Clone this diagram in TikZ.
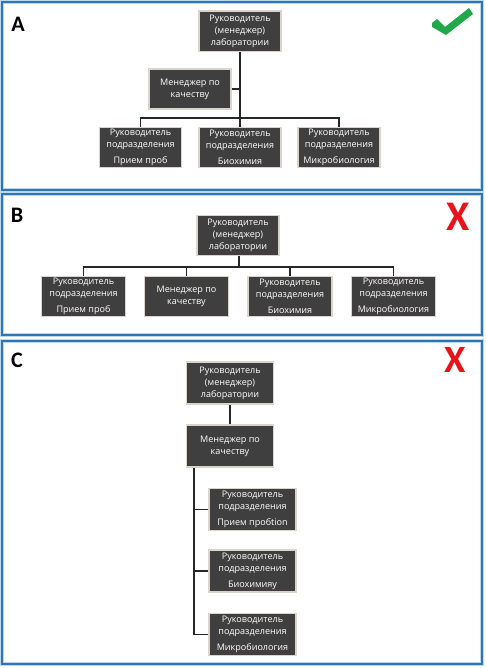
\documentclass[tikz,border=0pt]{standalone}
\usepackage{fontspec}
\setmainfont{Open Sans}
\newfontfamily\lblfont{Carlito}
\definecolor{boxgray}{HTML}{3F3F3F}
\definecolor{boxedge}{HTML}{D9D5CD}
\definecolor{frameblue}{HTML}{2E75B6}
\definecolor{framepale}{HTML}{BDD7EE}
\definecolor{okgreen}{HTML}{22A84A}
\definecolor{nored}{HTML}{E8141C}
\begin{document}
\begin{tikzpicture}[x=0.02cm, y=-0.02cm,
    box/.style={draw=boxedge, line width=0.9pt, fill=boxgray, text=white, align=center,
        minimum width=46.5pt, minimum height=23pt, inner sep=0pt,
        font=\fontsize{5.15}{6.8}\selectfont},
    boxc/.style={box, minimum width=49.5pt, minimum height=24pt},
    conn/.style={draw=black!85, line width=1pt},
    panel/.style={draw=frameblue, line width=1.1pt},
    panelglow/.style={draw=framepale, line width=2.6pt},
    letter/.style={font=\lblfont\bfseries\fontsize{12.6}{14}\selectfont, inner sep=0pt},
    cross/.style={text=nored, font=\lblfont\bfseries\fontsize{24}{26}\selectfont, inner sep=0pt}]
    \fill[white] (0,0) rectangle (485,668);
    \useasboundingbox (0,0) rectangle (485,668);

    % Frames
    \draw[panelglow] (2,2) rectangle (482,190);
    \draw[panel] (2,2) rectangle (482,190);
    \draw[panelglow] (2,194) rectangle (482,335);
    \draw[panel] (2,194) rectangle (482,335);
    \draw[panelglow] (2,341) rectangle (482,664);
    \draw[panel] (2,341) rectangle (482,664);

    % A
    \node[letter] (labA) at (18,24) {A};
    \fill[okgreen] (432,23) -- (437,19) -- (445,27) -- (469,8) -- (473,14) -- (446,35) -- (432,27) -- cycle;
    \node[box] (topA) at (240,31.5) {Руководитель\\(менеджер)\\лаборатории};
    \node[box] (qmA) at (190,89) {Менеджер по\\качеству};
    \node[box] (sub1A) at (140.5,147.5) {Руководитель\\подразделения\\[2.4pt]Прием проб};
    \node[box] (sub2A) at (240,147.5) {Руководитель\\подразделения\\[2.4pt]Биохимия};
    \node[box] (sub3A) at (339,147.5) {Руководитель\\подразделения\\[2.4pt]Микробиология};
    \coordinate (busA) at (240,118);
    \draw[conn] (topA.south) -- (busA);
    \draw[conn] (sub1A.north) |- (busA) -| (sub3A.north);
    \draw[conn] (busA) -- (sub2A.north);
    \draw[conn] (qmA.east) -- (qmA.east -| busA);

    % B
    \node[letter] (labB) at (17,215) {B};
    \node[cross] (xB) at (458.5,216.5) {X};
    \node[box] (topB) at (238,235.5) {Руководитель\\(менеджер)\\лаборатории};
    \node[box, minimum width=48pt] (sub1B) at (83.5,296.5) {Руководитель\\подразделения\\[2.4pt]Прием проб};
    \node[box, minimum width=48pt] (qmB) at (186.5,296.5) {Менеджер по\\качеству};
    \node[box, minimum width=48pt] (sub2B) at (290,296.5) {Руководитель\\подразделения\\[2.4pt]Биохимия};
    \node[box, minimum width=48pt] (sub3B) at (393.5,296.5) {Руководитель\\подразделения\\[2.4pt]Микробиология};
    \coordinate (busB) at (239,267);
    \draw[conn] (topB.south -| busB) -- (busB);
    \draw[conn] (sub1B.north) |- (busB) -| (sub3B.north);
    \draw[conn] (qmB.north) -- (qmB.north |- busB);
    \draw[conn] (sub2B.north) -- (sub2B.north |- busB);

    % C
    \node[letter] (labC) at (17,360) {C};
    \node[cross, font=\lblfont\bfseries\fontsize{22}{24}\selectfont] (xC) at (455,359.5) {X};
    \node[boxc] (topC) at (230,383) {Руководитель\\(менеджер)\\лаборатории};
    \node[boxc] (qmC) at (230,446) {Менеджер по\\качеству};
    \node[boxc] (sub1C) at (252.5,509.5) {Руководитель\\подразделения\\[2.4pt]Прием пробtion};
    \node[boxc] (sub2C) at (252.5,571) {Руководитель\\подразделения\\[2.4pt]Биохимияу};
    \node[boxc] (sub3C) at (252.5,634.5) {Руководитель\\подразделения\\[2.4pt]Микробиология};
    \coordinate (railC) at (194,468);
    \draw[conn] (topC) -- (qmC);
    \draw[conn] (qmC.south -| railC) |- (sub3C.west);
    \draw[conn] (sub1C.west) -- (sub1C.west -| railC);
    \draw[conn] (sub2C.west) -- (sub2C.west -| railC);
\end{tikzpicture}
\end{document}
